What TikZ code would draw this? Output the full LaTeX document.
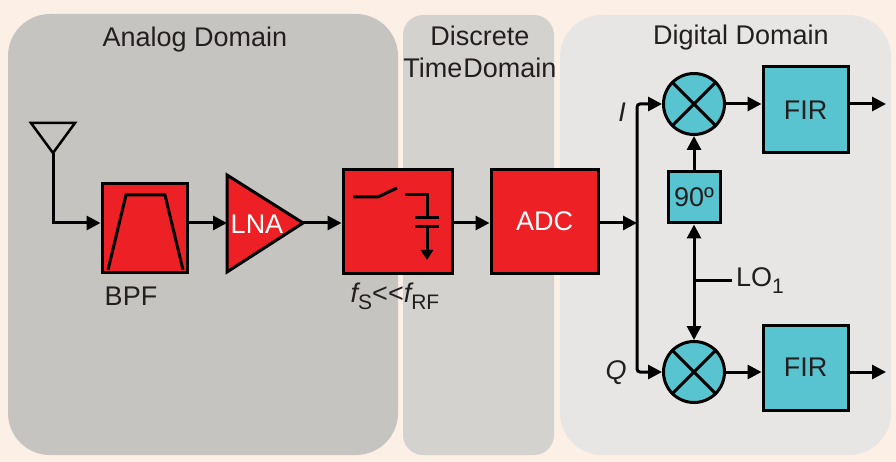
\documentclass[tikz,border=0pt]{standalone}
\usepackage{fontspec}
\setmainfont{Liberation Sans}
\usetikzlibrary{arrows.meta,calc}
\definecolor{bgc}{RGB}{252,240,230}
\definecolor{anac}{RGB}{198,196,192}
\definecolor{disc}{RGB}{212,210,207}
\definecolor{digc}{RGB}{231,230,228}
\definecolor{redf}{RGB}{236,32,37}
\definecolor{tealf}{RGB}{88,196,208}
\definecolor{txt}{RGB}{35,31,32}
\newcommand{\subtx}[1]{\raisebox{-7pt}{\fontsize{21}{21}\selectfont #1}}
\begin{document}
\begin{tikzpicture}[x=1pt,y=-1pt,
  every node/.style={font=\fontsize{27}{30}\selectfont, text=txt, inner sep=0pt},
  blk/.style={draw=black, line width=3pt, fill=redf},
  tblk/.style={draw=black, line width=3pt, fill=tealf},
  wire/.style={line width=3pt, draw=black},
  tip/.tip={Triangle[length=14pt,width=14pt]},
  arr/.style={wire, -tip}]
\useasboundingbox (0,0) rectangle (896,462);
\fill[bgc] (0,0) rectangle (896,462);
% domains
\fill[anac, rounded corners=42pt] (8,14) rectangle (398,455);
\fill[disc, rounded corners=20pt] (403,15) rectangle (554,455);
\fill[digc, rounded corners=42pt] (560,15) rectangle (891,455);
\node[anchor=base] (tA) at (195,47) {Analog Domain};
\node[anchor=base] (tD1) at (480,46) {Discrete};
\node[anchor=base] (tD2) at (480,78) {Time\hspace{1pt}Domain};
\node[anchor=base] (tG) at (741,45) {Digital Domain};
% antenna
\draw[line width=2.5pt, line join=miter] (31,123) -- (75,123) -- (53,153) -- cycle;
\coordinate (ant) at (53,153);
% blocks
\node[blk, minimum width=85pt, minimum height=88pt] (bpf) at (144.5,228) {};
\draw[line width=3pt] (108,270) -- (126,195) -- (165,195) -- (183,270);
\node[anchor=base] (bpfl) at (131,305) {BPF};
\coordinate (lnaL) at (227,223);
\coordinate (lnaR) at (303,223);
\filldraw[blk, line join=miter] (227,175) -- (lnaR) -- (227,272) -- cycle;
\node[text=white] (lna) at (257,224) {LNA};
\node[blk, minimum width=109pt, minimum height=103pt] (sh) at (397.5,221.5) {};
\draw[wire] (353,197) -- (378,197) -- (397,188);
\draw[wire] (405,195) -- (427,195) -- (427,218);
\draw[wire] (415,218) -- (439,218);
\draw[wire] (415,227) -- (439,227);
\draw[wire, -{Triangle[length=10pt,width=12pt]}] (427,227) -- (427,260);
\node[anchor=base] (fsl) at (395,302) {\itshape f\upshape\subtx{S}{<}{<}\itshape f\upshape\subtx{RF}};
\node[blk, minimum width=107pt, minimum height=103pt, text=white] (adc) at (544.5,221.5) {ADC};
% connectors
\draw[arr] (ant) |- (bpf.west |- lnaL);
\draw[arr] (bpf.east |- lnaL) -- (lnaL);
\draw[arr] (lnaR) -- (sh.west |- lnaR);
\draw[arr] (sh.east |- lnaR) -- (adc.west |- lnaR);
\coordinate (bus) at (637,223);
\draw[arr] (adc.east |- lnaR) -- (bus);
% digital
\node[tblk, circle, minimum size=61pt] (mixI) at (694,104) {};
\node[tblk, circle, minimum size=61pt] (mixQ) at (694,372) {};
\foreach \m in {mixI,mixQ}{
  \draw[wire] (\m.north west) -- (\m.south east);
  \draw[wire] (\m.north east) -- (\m.south west);
}
\draw[arr, rounded corners=3pt] (bus) |- (mixI.west);
\draw[arr, rounded corners=3pt] (bus) |- (mixQ.west);
\node (il) at (622,112) {\itshape I};
\node (ql) at (616,373) {\itshape Q};
\node[tblk, minimum width=85pt, minimum height=86pt] (firI) at (805.5,110) {FIR};
\node[tblk, minimum width=85pt, minimum height=85pt] (firQ) at (805.5,367.5) {FIR};
\coordinate (outI) at (886,104);
\coordinate (outQ) at (886,372);
\draw[arr] (mixI.east) -- (firI.west |- mixI.east);
\draw[arr] (mixQ.east) -- (firQ.west |- mixQ.east);
\draw[arr] (firI.east |- outI) -- (outI);
\draw[arr] (firQ.east |- outQ) -- (outQ);
\node[tblk, minimum width=52pt, minimum height=51pt] (ph) at (694,197.5) {90º};
\draw[arr] (ph.north) -- (mixI.south);
\draw[wire, tip-tip] (ph.south) -- (mixQ.north);
\coordinate (lo) at (694,280);
\coordinate (loend) at (732,280);
\draw[wire] (lo) -- (loend);
\node[anchor=west] (lol) at (736,281) {LO\subtx{1}};
\end{tikzpicture}
\end{document}
